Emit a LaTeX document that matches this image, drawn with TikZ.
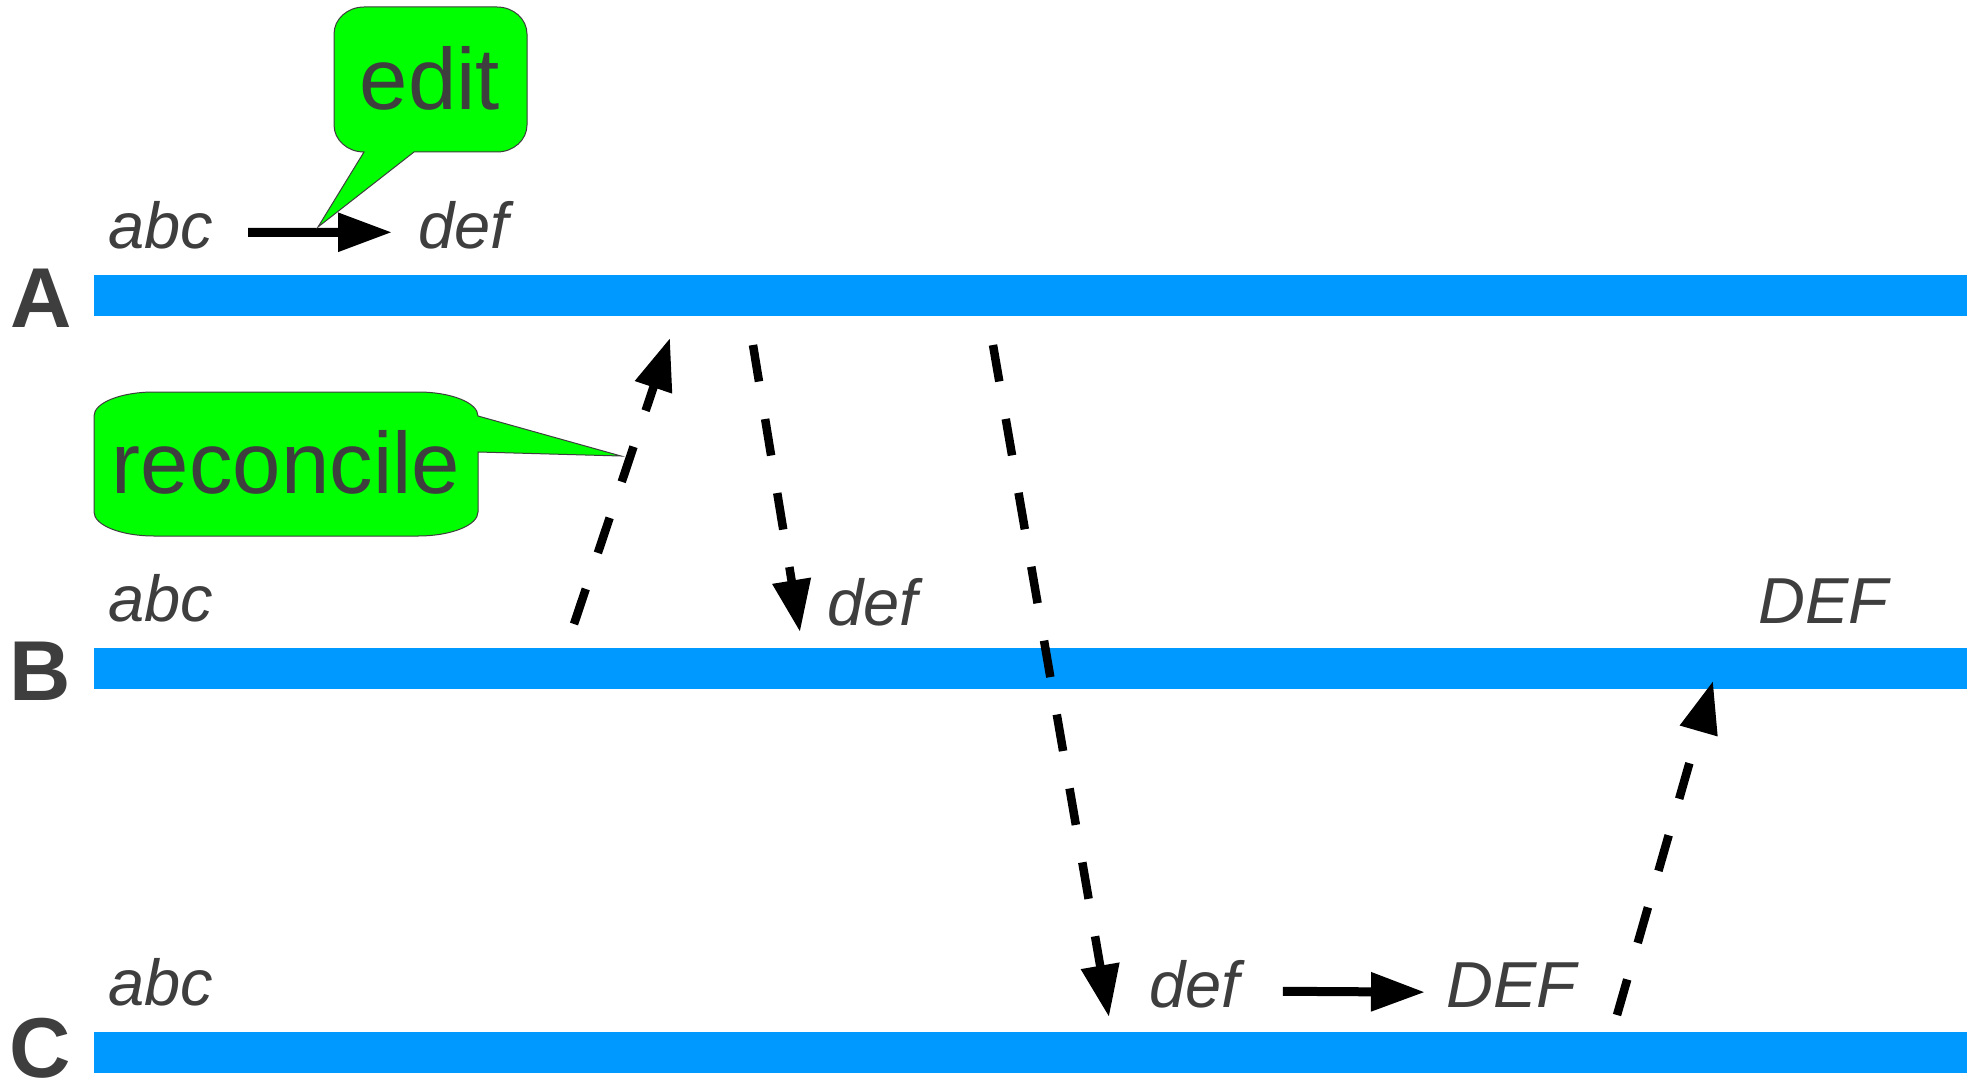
\documentclass[tikz,border=0pt]{standalone}
\usepackage{fontspec}
\setmainfont{Liberation Sans}
\usetikzlibrary{arrows.meta}
\definecolor{lane}{RGB}{0,153,255}
\definecolor{ink}{RGB}{62,62,62}
\definecolor{bubble}{RGB}{0,255,0}

\begin{document}
\begin{tikzpicture}[x=1pt, y=-1pt,
	val/.style={inner sep=0, anchor=base west, text=ink, font=\fontsize{65}{78}\selectfont\itshape},
	site/.style={inner sep=0, anchor=base west, text=ink, font=\fontsize{85}{100}\selectfont\bfseries},
	note/.style={inner sep=0, anchor=base, text=ink, font=\fontsize{87}{100}\selectfont},
	bubbleline/.style={draw=ink, line width=1pt, fill=bubble},
	change/.style={line width=9pt, -{Triangle[length=54pt, width=37pt]}},
	sync/.style={line width=8.5pt, dash pattern=on 37pt off 38pt, -{Triangle[length=52pt, width=37pt]}}]
	\useasboundingbox (0,0) rectangle (1977,1086);
	% sites and their lanes
	\node[site] (A) at (10,327) {A};
	\node[site] (B) at (9,700) {B};
	\node[site] (C) at (9,1077) {C};
	\fill[lane] (94,275) rectangle (1967,316);
	\fill[lane] (94,648) rectangle (1967,689);
	\fill[lane] (94,1032) rectangle (1967,1073);
	% values
	\node[val] (abcA) at (108,248) {abc};
	\node[val] (defA) at (418,248) {def};
	\node[val] (abcB) at (108,621) {abc};
	\node[val] (defB) at (827,625) {def};
	\node[val] (DEFB) at (1758,623) {DEF};
	\node[val] (abcC) at (108,1005) {abc};
	\node[val] (defC) at (1149,1007) {def};
	\node[val] (DEFC) at (1446,1007) {DEF};
	\draw[change] ([xshift=35pt, yshift=-7.5pt]abcA.east) -- ([xshift=-26pt, yshift=-7.5pt]defA.west);
	\draw[change] ([xshift=43pt, yshift=-7.5pt]defC.east) -- ([xshift=-21pt, yshift=-7.5pt]DEFC.west);
	% syncs between lanes
	\coordinate (BtoA) at (574,624);
	\coordinate (AatB) at (670,338);
	\coordinate (AtoB) at (753,345);
	\coordinate (BatA) at (800,632);
	\coordinate (AtoC) at (993,345);
	\coordinate (CatA) at (1109,1017);
	\coordinate (CtoB) at (1617,1015);
	\coordinate (BatC) at (1713,681);
	\draw[sync] (BtoA) -- (AatB);
	\draw[sync] (AtoB) -- (BatA);
	\draw[sync] (AtoC) -- (CatA);
	\draw[sync] (CtoB) -- (BatC);
	% callouts
	\filldraw[bubbleline] (364,7) -- (497,7) arc[start angle=270, end angle=360, x radius=30, y radius=27] -- (527,125) arc[start angle=0, end angle=90, x radius=30, y radius=27] -- (414,152) -- (318,227) -- (364,152) arc[start angle=90, end angle=180, x radius=30, y radius=27] -- (334,34) arc[start angle=180, end angle=270, x radius=30, y radius=27] -- cycle;
	\node[note] (edit) at (430,110) {edit};
	\filldraw[bubbleline] (154,392) -- (418,392) arc[start angle=270, end angle=360, x radius=60, y radius=24] -- (621,456) -- (478,452) -- (478,512) arc[start angle=0, end angle=90, x radius=60, y radius=24] -- (154,536) arc[start angle=90, end angle=180, x radius=60, y radius=24] -- (94,416) arc[start angle=180, end angle=270, x radius=60, y radius=24] -- cycle;
	\node[note] (reconcile) at (286,493) {reconcile};
\end{tikzpicture}
\end{document}
